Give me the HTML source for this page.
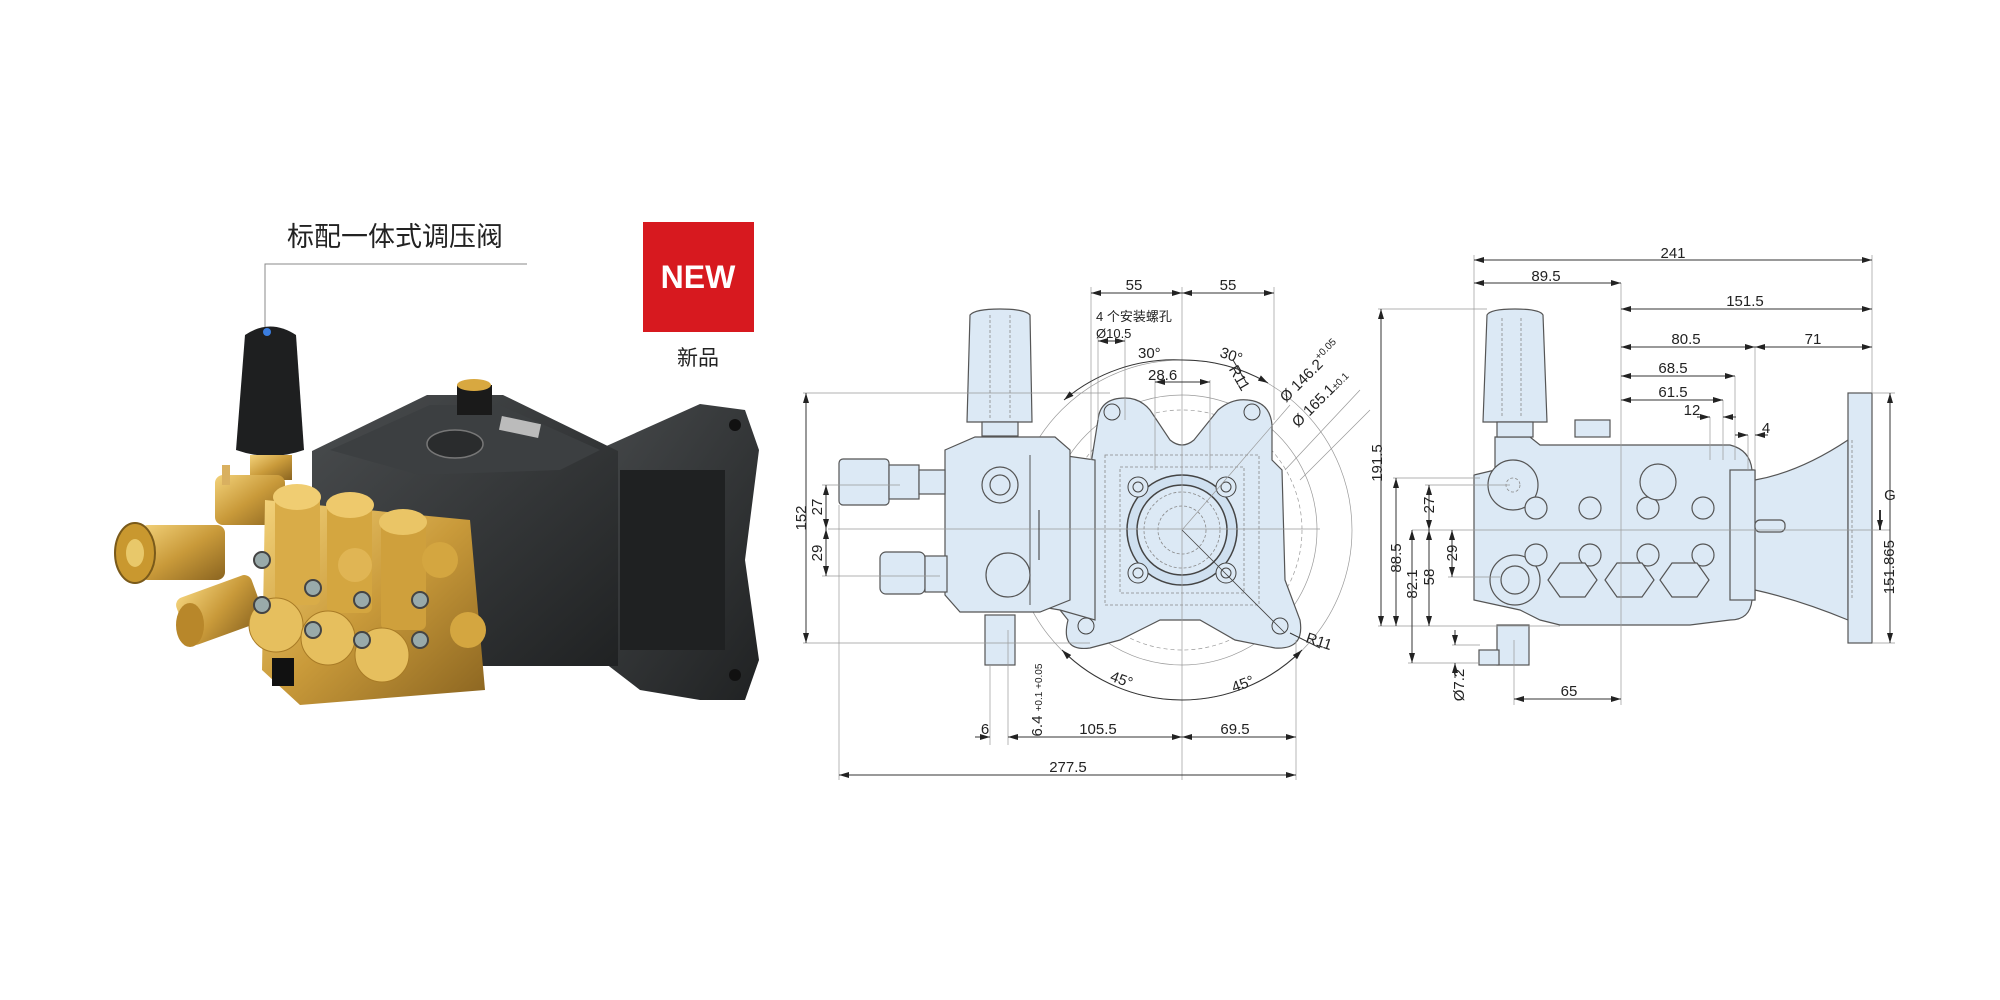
<!DOCTYPE html>
<html><head><meta charset="utf-8"><style>
html,body{margin:0;padding:0;background:#fff;}
svg{display:block;}
text{font-family:"Liberation Sans","Noto Sans CJK SC",sans-serif;fill:#222;}
.d{stroke:#333;stroke-width:1;fill:none;}
.t{stroke:#999;stroke-width:0.7;fill:none;}
.b{fill:#dce9f5;stroke:#555;stroke-width:1.2;}
.h{fill:none;stroke:#888;stroke-width:0.8;stroke-dasharray:3 2;}
.dim{font-size:15px;}
</style></head><body>
<svg width="2000" height="1000" viewBox="0 0 2000 1000" xmlns="http://www.w3.org/2000/svg">
<defs>
<marker id="a" markerWidth="10" markerHeight="6" refX="10" refY="3" orient="auto-start-reverse" markerUnits="userSpaceOnUse"><path d="M0,0 L10,3 L0,6 z" fill="#222"/></marker>
<linearGradient id="brass" x1="0" y1="0" x2="1" y2="1"><stop offset="0" stop-color="#f3d27a"/><stop offset="0.5" stop-color="#c99a3a"/><stop offset="1" stop-color="#8a6420"/></linearGradient>
<linearGradient id="dark" x1="0" y1="0" x2="1" y2="1"><stop offset="0" stop-color="#4a4d4f"/><stop offset="1" stop-color="#202223"/></linearGradient>
</defs>

<text x="287" y="246" font-size="27" fill="#333">标配一体式调压阀</text>
<polyline points="527,264 265,264 265,332" fill="none" stroke="#888" stroke-width="1"/>
<rect x="643" y="222" width="111" height="110" fill="#d7191f"/>
<text x="698" y="288" font-size="32" font-weight="bold" text-anchor="middle" style="fill:#fff">NEW</text>
<text x="698" y="365" font-size="21" text-anchor="middle">新品</text>

<g>
 <path d="M553,470 L700,404 L745,410 L759,450 L745,560 L759,660 L745,700 L700,700 L640,690 L575,640 L553,560 z" fill="url(#dark)"/>
 <rect x="620" y="470" width="105" height="180" fill="#1f2122"/>
 <circle cx="735" cy="425" r="6" fill="#111"/><circle cx="735" cy="675" r="6" fill="#111"/>
 <path d="M312,451 L427,395 L503,395 L618,451 L618,666 L477,666 L312,558 z" fill="url(#dark)"/>
 <path d="M330,450 L430,405 L500,405 L600,450 L560,470 L420,475 z" fill="#3c3f41"/>
 <ellipse cx="455" cy="444" rx="28" ry="14" fill="#2a2c2d" stroke="#777" stroke-width="1.5"/>
 <rect x="500" y="420" width="40" height="14" fill="#bbb" transform="rotate(12 520 427)"/>
 <rect x="457" y="385" width="35" height="30" fill="#1a1a1a"/>
 <ellipse cx="474" cy="385" rx="17" ry="6" fill="#d8a840"/>
 <path d="M245,335 Q270,318 296,335 L304,450 Q270,462 236,450 z" fill="#1e1f20"/>
 <circle cx="267" cy="332" r="4" fill="#3a7de0"/>
 <rect x="250" y="455" width="42" height="25" fill="url(#brass)"/>
 <rect x="215" y="475" width="70" height="50" rx="8" fill="url(#brass)"/>
 <rect x="222" y="465" width="8" height="20" fill="#d9b060"/>
 <rect x="140" y="525" width="85" height="55" rx="8" fill="url(#brass)"/>
 <ellipse cx="135" cy="553" rx="20" ry="30" fill="#c9982f" stroke="#7a5a1a" stroke-width="2"/>
 <ellipse cx="135" cy="553" rx="9" ry="14" fill="#e8c86a"/>
 <rect x="180" y="585" width="80" height="50" rx="8" fill="url(#brass)" transform="rotate(-20 220 610)"/>
 <ellipse cx="190" cy="625" rx="14" ry="22" fill="#b8872a"/>
 <path d="M265,500 L470,520 L485,690 L300,705 L262,670 z" fill="url(#brass)"/>
 <rect x="275" y="495" width="45" height="110" rx="6" fill="#d9ac48"/>
 <rect x="327" y="503" width="45" height="110" rx="6" fill="#d4a640"/>
 <rect x="381" y="520" width="45" height="110" rx="6" fill="#cfa03c"/>
 <ellipse cx="297" cy="497" rx="24" ry="13" fill="#f0cd72"/>
 <ellipse cx="350" cy="505" rx="24" ry="13" fill="#eec96c"/>
 <ellipse cx="403" cy="522" rx="24" ry="13" fill="#eac566"/>
 <circle cx="440" cy="560" r="18" fill="#d4a640"/>
 <circle cx="355" cy="565" r="17" fill="#e0b554"/>
 <circle cx="276" cy="625" r="27" fill="#e6bf5e" stroke="#a87b26"/>
 <circle cx="328" cy="638" r="27" fill="#e6bf5e" stroke="#a87b26"/>
 <circle cx="382" cy="655" r="27" fill="#e6bf5e" stroke="#a87b26"/>
 <circle cx="468" cy="630" r="18" fill="#d4a640"/>
 <g fill="#9aa" stroke="#444" stroke-width="2">
  <circle cx="262" cy="560" r="8"/><circle cx="313" cy="588" r="8"/><circle cx="362" cy="600" r="8"/><circle cx="420" cy="600" r="8"/>
  <circle cx="262" cy="605" r="8"/><circle cx="313" cy="630" r="8"/><circle cx="362" cy="640" r="8"/><circle cx="420" cy="640" r="8"/>
 </g>
 <rect x="272" y="658" width="22" height="28" fill="#111"/>
</g>

<!-- MIDDLE DRAWING -->
<g>
 <circle cx="1182" cy="530" r="170" class="t"/>
 <circle cx="1182" cy="530" r="135" class="t"/>
 <circle cx="1182" cy="530" r="120" class="t" stroke-dasharray="4 3"/>
 <path class="b" d="M1098,420 Q1100,398 1125,398 Q1140,398 1150,410 L1170,440 Q1182,450 1194,440 L1218,410 Q1232,398 1248,400 Q1270,402 1272,425 L1272,460 L1282,470 L1285,580 L1300,620 Q1305,650 1275,648 L1235,640 L1200,620 L1160,620 L1120,640 L1090,648 Q1060,652 1068,620 L1060,610 L1030,590 L1030,470 L1090,470 z"/>
 <circle cx="1182" cy="530" r="55" fill="#cfe0f0" stroke="#444" stroke-width="1.5"/>
 <circle cx="1182" cy="530" r="45" fill="#dce9f5" stroke="#444" stroke-width="1.5"/>
 <circle cx="1182" cy="530" r="38" class="h"/>
 <circle cx="1182" cy="530" r="24" class="h"/>
 <rect x="1120" y="467" width="124" height="126" class="h"/>
 <rect x="1105" y="455" width="154" height="150" class="h"/>
 <g fill="#dce9f5" stroke="#444">
  <circle cx="1138" cy="487" r="10"/><circle cx="1226" cy="487" r="10"/><circle cx="1138" cy="573" r="10"/><circle cx="1226" cy="573" r="10"/>
  <circle cx="1138" cy="487" r="5"/><circle cx="1226" cy="487" r="5"/><circle cx="1138" cy="573" r="5"/><circle cx="1226" cy="573" r="5"/>
  <circle cx="1112" cy="412" r="8"/><circle cx="1252" cy="412" r="8"/><circle cx="1086" cy="626" r="8"/><circle cx="1280" cy="626" r="8"/>
 </g>
 <path class="b" d="M1030,465 L1060,455 L1095,460 L1095,620 L1060,610 L1030,605 z"/>
 <path class="b" d="M945,450 L975,437 L1055,437 L1070,450 L1070,600 L1040,612 L960,612 L945,595 z"/>
 <line x1="1030" y1="455" x2="1030" y2="605" stroke="#555"/>
 <circle cx="1000" cy="485" r="18" class="b"/><circle cx="1000" cy="485" r="10" class="b"/>
 <circle cx="1008" cy="575" r="22" class="b"/>
 <path class="b" d="M970,315 Q975,309 1000,309 Q1025,309 1030,315 L1032,422 L967,422 z"/>
 <line x1="990" y1="315" x2="990" y2="420" class="h"/><line x1="1010" y1="315" x2="1010" y2="420" class="h"/>
 <rect x="982" y="422" width="36" height="14" class="b"/>
 <rect x="839" y="459" width="50" height="46" rx="4" class="b"/>
 <rect x="889" y="465" width="30" height="34" class="b"/>
 <rect x="919" y="470" width="26" height="24" class="b"/>
 <rect x="880" y="552" width="45" height="42" rx="6" class="b"/>
 <rect x="925" y="556" width="22" height="36" class="b"/>
 <rect x="985" y="615" width="30" height="50" class="b"/>
 <line x1="828" y1="529" x2="1320" y2="529" class="t"/>
 <line x1="1182" y1="287" x2="1182" y2="780" class="t"/>
 <line x1="1182" y1="530" x2="1285" y2="633" stroke="#444" stroke-width="0.8"/>
 <line x1="1182" y1="530" x2="1290" y2="405" class="t"/>
 <g class="t">
  <line x1="1091" y1="287" x2="1091" y2="460"/><line x1="1274" y1="287" x2="1274" y2="420"/>
  <line x1="803" y1="393" x2="1110" y2="393"/><line x1="803" y1="643" x2="1090" y2="643"/>
  <line x1="822" y1="485" x2="900" y2="485"/><line x1="822" y1="576" x2="940" y2="576"/>
  <line x1="839" y1="505" x2="839" y2="780"/><line x1="990" y1="665" x2="990" y2="745"/><line x1="1008" y1="630" x2="1008" y2="745"/>
  <line x1="1296" y1="640" x2="1296" y2="780"/>
  <line x1="1098" y1="338" x2="1098" y2="420"/><line x1="1125" y1="338" x2="1125" y2="420"/>
  <line x1="1155" y1="380" x2="1155" y2="470"/><line x1="1210" y1="380" x2="1210" y2="470"/>
  <line x1="1285" y1="470" x2="1360" y2="390"/><line x1="1300" y1="480" x2="1370" y2="410"/>
 </g>
 <g class="d">
  <line x1="1091" y1="293" x2="1182" y2="293" marker-start="url(#a)" marker-end="url(#a)"/>
  <line x1="1182" y1="293" x2="1274" y2="293" marker-start="url(#a)" marker-end="url(#a)"/>
  <line x1="1098" y1="341" x2="1125" y2="341" marker-start="url(#a)" marker-end="url(#a)"/>
  <line x1="1155" y1="382" x2="1210" y2="382" marker-start="url(#a)" marker-end="url(#a)"/>
  <line x1="806" y1="393" x2="806" y2="643" marker-start="url(#a)" marker-end="url(#a)"/>
  <line x1="826" y1="485" x2="826" y2="529" marker-start="url(#a)" marker-end="url(#a)"/>
  <line x1="826" y1="529" x2="826" y2="576" marker-start="url(#a)" marker-end="url(#a)"/>
  <line x1="839" y1="775" x2="1296" y2="775" marker-start="url(#a)" marker-end="url(#a)"/>
  <line x1="975" y1="737" x2="990" y2="737" marker-end="url(#a)"/>
  <line x1="1008" y1="737" x2="1182" y2="737" marker-start="url(#a)" marker-end="url(#a)"/>
  <line x1="1182" y1="737" x2="1296" y2="737" marker-start="url(#a)" marker-end="url(#a)"/>
  <line x1="1039" y1="510" x2="1039" y2="560"/>
  <path d="M1064,400 A170,170 0 0 1 1182,360" marker-start="url(#a)"/>
  <path d="M1182,360 A170,170 0 0 1 1268,383" marker-end="url(#a)"/>
  <path d="M1062,650 A170,170 0 0 0 1182,700" marker-start="url(#a)"/>
  <path d="M1182,700 A170,170 0 0 0 1302,650" marker-end="url(#a)"/>
  <line x1="1233" y1="360" x2="1246" y2="382"/>
  <line x1="1290" y1="633" x2="1320" y2="648"/>
 </g>
 <g class="dim">
  <text x="1134" y="290" text-anchor="middle">55</text>
  <text x="1228" y="290" text-anchor="middle">55</text>
  <text x="1096" y="321" font-size="13">4 个安装螺孔</text>
  <text x="1096" y="338" font-size="13">Ø10.5</text>
  <text x="1138" y="358">30°</text>
  <text x="1148" y="380">28.6</text>
  <text x="1220" y="360" transform="rotate(18 1230 355)">30°</text>
  <text x="1225" y="375" transform="rotate(60 1232 375)">R11</text>
  <text x="1286" y="403" transform="rotate(-45 1286 403)">Ø 146.2<tspan font-size="10" dy="-7">+0.05</tspan></text>
  <text x="1298" y="428" transform="rotate(-45 1298 428)">Ø 165.1<tspan font-size="10">±0.1</tspan></text>
  <text x="1305" y="642" transform="rotate(18 1305 642)">R11</text>
  <text x="1110" y="684" transform="rotate(20 1120 680)">45°</text>
  <text x="1232" y="690" transform="rotate(-20 1240 686)">45°</text>
  <text x="801" y="523" text-anchor="middle" transform="rotate(-90 801 518)">152</text>
  <text x="822" y="507" text-anchor="middle" transform="rotate(-90 822 507)">27</text>
  <text x="822" y="553" text-anchor="middle" transform="rotate(-90 822 553)">29</text>
  <text x="1030" y="712" text-anchor="middle" transform="rotate(-90 1030 700)">6.4 <tspan font-size="10">+0.1 +0.05</tspan></text>
  <text x="985" y="734" text-anchor="middle">6</text>
  <text x="1098" y="734" text-anchor="middle">105.5</text>
  <text x="1235" y="734" text-anchor="middle">69.5</text>
  <text x="1068" y="772" text-anchor="middle">277.5</text>
 </g>
</g>

<!-- RIGHT DRAWING -->
<g>
 <path class="b" d="M1730,470 L1755,470 L1755,480 Q1800,472 1848,440 L1848,620 Q1800,600 1755,590 L1755,600 L1730,600 z"/>
 <rect x="1848" y="393" width="24" height="250" class="b"/>
 <line x1="1852" y1="440" x2="1852" y2="600" class="h"/>
 <path class="b" d="M1474,475 L1495,470 L1495,437 L1530,437 L1540,445 L1730,445 Q1750,450 1752,470 L1752,600 Q1750,620 1730,620 L1690,625 L1560,625 L1540,620 L1520,610 L1474,600 z"/>
 <rect x="1575" y="420" width="35" height="17" class="b"/>
 <rect x="1730" y="470" width="25" height="130" class="b"/>
 <path class="b" d="M1487,315 Q1490,309 1515,309 Q1540,309 1543,315 L1547,422 L1483,422 z"/>
 <line x1="1502" y1="318" x2="1502" y2="418" class="h"/><line x1="1521" y1="318" x2="1521" y2="418" class="h"/>
 <rect x="1497" y="422" width="36" height="15" class="b"/>
 <circle cx="1513" cy="485" r="25" class="b"/><circle cx="1513" cy="485" r="7" class="h"/>
 <circle cx="1515" cy="580" r="25" class="b"/><circle cx="1515" cy="580" r="14" class="b"/>
 <g class="b">
  <circle cx="1536" cy="508" r="11"/><circle cx="1590" cy="508" r="11"/><circle cx="1648" cy="508" r="11"/><circle cx="1703" cy="508" r="11"/>
  <circle cx="1536" cy="555" r="11"/><circle cx="1590" cy="555" r="11"/><circle cx="1648" cy="555" r="11"/><circle cx="1703" cy="555" r="11"/>
  <circle cx="1658" cy="482" r="18"/>
  <path d="M1548,580 L1560,563 L1585,563 L1597,580 L1585,597 L1560,597 z"/>
  <path d="M1605,580 L1617,563 L1642,563 L1654,580 L1642,597 L1617,597 z"/>
  <path d="M1660,580 L1672,563 L1697,563 L1709,580 L1697,597 L1672,597 z"/>
 </g>
 <rect x="1497" y="625" width="32" height="40" class="b"/>
 <rect x="1479" y="650" width="20" height="15" class="b"/>
 <rect x="1755" y="520" width="30" height="12" rx="5" class="b"/>
 <line x1="1412" y1="530" x2="1890" y2="530" class="t"/>
 <line x1="1621" y1="283" x2="1621" y2="705" class="t"/>
 <g class="t">
  <line x1="1474" y1="255" x2="1474" y2="475"/><line x1="1872" y1="255" x2="1872" y2="393"/>
  <line x1="1755" y1="347" x2="1755" y2="470"/><line x1="1735" y1="376" x2="1735" y2="460"/><line x1="1723" y1="400" x2="1723" y2="460"/>
  <line x1="1710" y1="417" x2="1710" y2="460"/><line x1="1748" y1="435" x2="1748" y2="470"/>
  <line x1="1378" y1="309" x2="1487" y2="309"/><line x1="1378" y1="626" x2="1560" y2="626"/>
  <line x1="1393" y1="478" x2="1480" y2="478"/><line x1="1425" y1="485" x2="1510" y2="485"/>
  <line x1="1448" y1="577" x2="1500" y2="577"/><line x1="1408" y1="663" x2="1480" y2="663"/><line x1="1452" y1="645" x2="1480" y2="645"/>
  <line x1="1514" y1="640" x2="1514" y2="705"/>
  <line x1="1872" y1="393" x2="1895" y2="393"/><line x1="1872" y1="643" x2="1895" y2="643"/>
 </g>
 <g class="d">
  <line x1="1474" y1="260" x2="1872" y2="260" marker-start="url(#a)" marker-end="url(#a)"/>
  <line x1="1474" y1="283" x2="1621" y2="283" marker-start="url(#a)" marker-end="url(#a)"/>
  <line x1="1621" y1="309" x2="1872" y2="309" marker-start="url(#a)" marker-end="url(#a)"/>
  <line x1="1621" y1="347" x2="1755" y2="347" marker-start="url(#a)" marker-end="url(#a)"/>
  <line x1="1755" y1="347" x2="1872" y2="347" marker-start="url(#a)" marker-end="url(#a)"/>
  <line x1="1621" y1="376" x2="1735" y2="376" marker-start="url(#a)" marker-end="url(#a)"/>
  <line x1="1621" y1="400" x2="1723" y2="400" marker-start="url(#a)" marker-end="url(#a)"/>
  <line x1="1697" y1="417" x2="1710" y2="417" marker-end="url(#a)"/>
  <line x1="1736" y1="417" x2="1723" y2="417" marker-end="url(#a)"/>
  <line x1="1735" y1="435" x2="1748" y2="435" marker-end="url(#a)"/>
  <line x1="1768" y1="435" x2="1755" y2="435" marker-end="url(#a)"/>
  <line x1="1381" y1="309" x2="1381" y2="626" marker-start="url(#a)" marker-end="url(#a)"/>
  <line x1="1396" y1="478" x2="1396" y2="626" marker-start="url(#a)" marker-end="url(#a)"/>
  <line x1="1412" y1="530" x2="1412" y2="663" marker-start="url(#a)" marker-end="url(#a)"/>
  <line x1="1429" y1="485" x2="1429" y2="530" marker-start="url(#a)" marker-end="url(#a)"/>
  <line x1="1429" y1="530" x2="1429" y2="626" marker-start="url(#a)" marker-end="url(#a)"/>
  <line x1="1452" y1="530" x2="1452" y2="577" marker-start="url(#a)" marker-end="url(#a)"/>
  <line x1="1455" y1="630" x2="1455" y2="645" marker-end="url(#a)"/>
  <line x1="1455" y1="678" x2="1455" y2="663" marker-end="url(#a)"/>
  <line x1="1514" y1="699" x2="1621" y2="699" marker-start="url(#a)" marker-end="url(#a)"/>
  <line x1="1890" y1="393" x2="1890" y2="643" marker-start="url(#a)" marker-end="url(#a)"/>
  <line x1="1880" y1="510" x2="1880" y2="530" marker-end="url(#a)" stroke-width="2"/>
 </g>
 <g class="dim">
  <text x="1673" y="258" text-anchor="middle">241</text>
  <text x="1546" y="281" text-anchor="middle">89.5</text>
  <text x="1745" y="306" text-anchor="middle">151.5</text>
  <text x="1686" y="344" text-anchor="middle">80.5</text>
  <text x="1813" y="344" text-anchor="middle">71</text>
  <text x="1673" y="373" text-anchor="middle">68.5</text>
  <text x="1673" y="397" text-anchor="middle">61.5</text>
  <text x="1692" y="415" text-anchor="middle">12</text>
  <text x="1766" y="433" text-anchor="middle">4</text>
  <text x="1569" y="696" text-anchor="middle">65</text>
  <text x="1890" y="500" text-anchor="middle">G</text>
  <text x="1377" y="468" text-anchor="middle" transform="rotate(-90 1377 463)">191.5</text>
  <text x="1396" y="563" text-anchor="middle" transform="rotate(-90 1396 558)">88.5</text>
  <text x="1412" y="589" text-anchor="middle" transform="rotate(-90 1412 584)">82.1</text>
  <text x="1429" y="510" text-anchor="middle" transform="rotate(-90 1429 505)">27</text>
  <text x="1429" y="582" text-anchor="middle" transform="rotate(-90 1429 577)">58</text>
  <text x="1452" y="558" text-anchor="middle" transform="rotate(-90 1452 553)">29</text>
  <text x="1459" y="690" text-anchor="middle" transform="rotate(-90 1459 685)">Ø7.2</text>
  <text x="1894" y="540" text-anchor="end" transform="rotate(-90 1894 540)">151.865</text>
 </g>
</g>
</svg>
</body></html>
